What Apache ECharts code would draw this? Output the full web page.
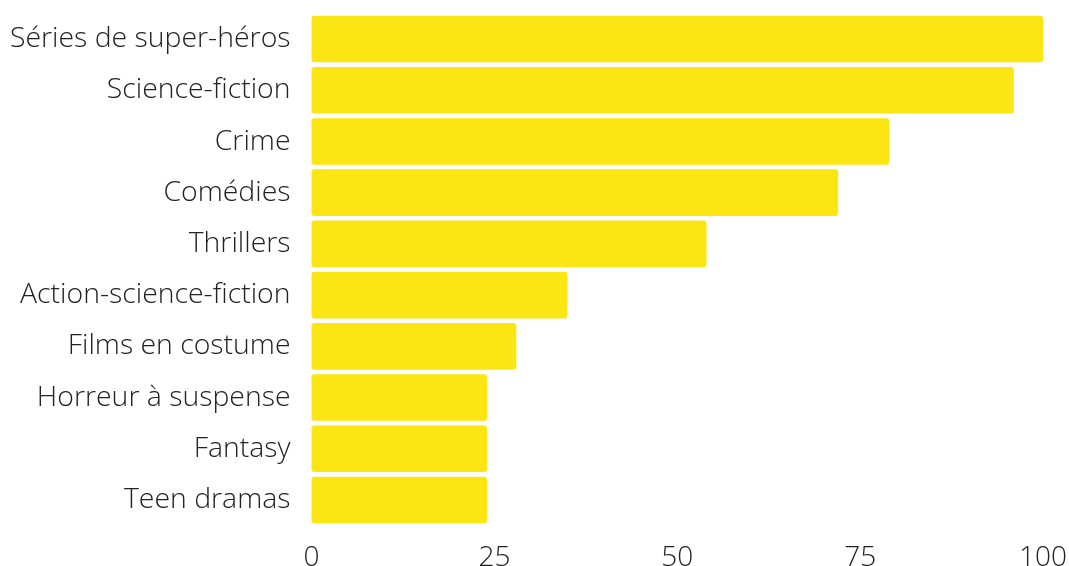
<!DOCTYPE html>
<html>
<head>
<meta charset="utf-8">
<script src="https://cdn.jsdelivr.net/npm/echarts@6/dist/echarts.min.js"></script>
<style>
  html, body { margin: 0; padding: 0; background: #ffffff; }
  #chart { width: 1069px; height: 566px; }
</style>
</head>
<body>
<div id="chart"></div>
<script>
// Genres, top to bottom
const genres = [
  'Séries de super-héros',
  'Science-fiction',
  'Crime',
  'Comédies',
  'Thrillers',
  'Action-science-fiction',
  'Films en costume',
  'Horreur à suspense',
  'Fantasy',
  'Teen dramas'
];
const scores = [100, 96, 79, 72, 54, 35, 28, 24, 24, 24];
const xTicks = [0, 25, 50, 75, 100];

const FONT = '"Open Sans", "Noto Sans", sans-serif';
const TEXT = '#222222';

const chart = echarts.init(document.getElementById('chart'), null, { renderer: 'canvas' });
chart.setOption({
  animation: false,
  backgroundColor: '#ffffff',
  grid: {
    left: 311.5, right: 26, top: 13.4, bottom: 40.4,
    containLabel: false,
    outerBoundsMode: 'none'
  },
  xAxis: {
    type: 'value',
    min: xTicks[0],
    max: xTicks[xTicks.length - 1],
    interval: 25,
    axisLine: { show: false },
    axisTick: { show: false },
    splitLine: { show: false },
    axisLabel: {
      margin: 18,
      color: TEXT,
      fontFamily: FONT,
      fontWeight: 300,
      fontSize: 28
    }
  },
  yAxis: {
    type: 'category',
    inverse: true,
    data: genres,
    axisLine: { show: false },
    axisTick: { show: false },
    splitLine: { show: false },
    axisLabel: {
      margin: 21,
      padding: [4, 0, 0, 0],
      color: TEXT,
      fontFamily: FONT,
      fontWeight: 300,
      fontSize: 28.4
    }
  },
  series: [{
    type: 'bar',
    data: scores,
    barCategoryGap: '9%',
    itemStyle: { color: '#fbe614', borderRadius: 3 }
  }]
});
</script>
</body>
</html>
